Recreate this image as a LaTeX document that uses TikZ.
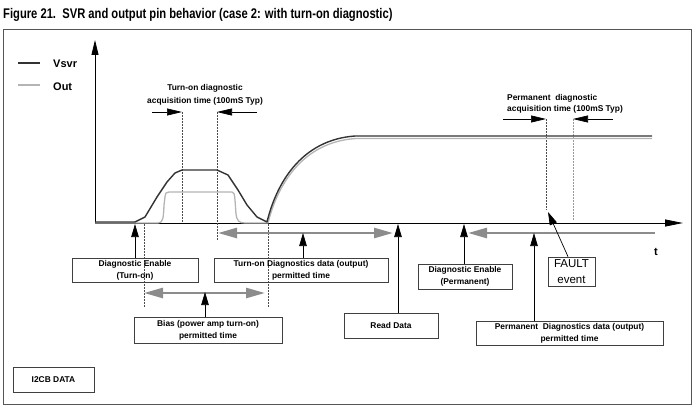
\documentclass[tikz,border=0pt]{standalone}
\usepackage{fontspec}
\setmainfont{Liberation Sans}
\usetikzlibrary{arrows.meta}
\definecolor{vcol}{HTML}{333333}
\definecolor{ocol}{HTML}{B4B4B4}
\definecolor{gar}{HTML}{8C8C8C}
\definecolor{frm}{HTML}{555555}
\begin{document}
\begin{tikzpicture}[x=1pt,y=-1pt,
  lbl/.style={font=\bfseries\fontsize{8.4}{12}\selectfont, align=center, inner sep=0pt},
  box/.style={draw=black!75, line width=0.7pt, lbl},
  blk/.style={draw=black, line width=0.7pt, -{Triangle[length=13pt,width=7.5pt]}},
  bigblk/.style={draw=black, line width=0.7pt, -{Triangle[length=15pt,width=7pt]}},
  garr/.style={draw=gar, line width=2.6pt, {Triangle[length=19pt,width=10pt]}-{Triangle[length=19pt,width=10pt]}},
  garrl/.style={draw=gar, line width=2.6pt, {Triangle[length=19pt,width=10pt]}-},
  dsh/.style={draw=black!70, line width=0.5pt, dash pattern=on 2pt off 1pt},
  vsvr/.style={draw=vcol, line width=1.4pt, line join=round},
  outc/.style={draw=ocol, line width=1.3pt, line join=round}]
\useasboundingbox (0,0) rectangle (698,409);
% title
\node[anchor=base west, inner sep=0pt, font=\bfseries\fontsize{14}{16}\selectfont] (title) at (3,19)
  {\scalebox{0.80}[1]{Figure 21.\ \ SVR and output pin behavior (case 2: with turn-on diagnostic)}};
% frame
\draw[frm, line width=1pt] (3,30) rectangle (691,404);
% axes
\coordinate (O) at (95,223);
\coordinate (ytop) at (95,40);
\coordinate (xend) at (683,223);
\draw[draw=black, line width=0.8pt, -{Triangle[length=15pt,width=7pt]}] (O) -- (ytop);
\draw[draw=black, line width=0.8pt, -{Triangle[length=18pt,width=7pt]}] (O) -- (xend);
\node[font=\bfseries\fontsize{11}{13}\selectfont, inner sep=0pt] (t) at (656,252) {t};
% legend
\coordinate (lv1) at (18,63); \coordinate (lv2) at (40,63);
\coordinate (lo1) at (18,85); \coordinate (lo2) at (40,85);
\draw[vsvr] (lv1) -- (lv2);
\draw[outc] (lo1) -- (lo2);
\node[anchor=west, inner sep=0pt, font=\bfseries\fontsize{11}{13}\selectfont] (lvt) at (53,64) {Vsvr};
\node[anchor=west, inner sep=0pt, font=\bfseries\fontsize{11}{13}\selectfont] (lot) at (53,87) {Out};
% dashed verticals
\draw[dsh] (182,112) -- (182,222);
\draw[dsh] (217,112) -- (217,240);
\draw[dsh] (144,224) -- (144,307);
\draw[dsh] (268,224) -- (268,307);
\draw[dsh] (546,119) -- (546,210);
\draw[draw=black!40, line width=0.6pt, dash pattern=on 2pt off 1pt] (573,119) -- (573,220);
% Out curve
\draw[outc] (95,223) -- (158,223) .. controls (163,223) and (163.5,218) .. (164,205) -- (165,197)
  .. controls (165.5,193) and (166,192) .. (169,192) -- (232,192)
  .. controls (234,192) and (234.5,194) .. (235,200) -- (236,214)
  .. controls (237,221) and (239,223) .. (245,223) -- (268,223)
  .. controls (277,187) and (301,142) .. (356,138.5) -- (652,138.5);
% Vsvr curve
\draw[vsvr] (95,222) -- (135,222) -- (145,217) -- (157,197) -- (167,182) -- (175,173) -- (182,170)
  -- (217,170) -- (228,175) -- (238,190) -- (247,205) -- (257,217) -- (267,222)
  .. controls (276,185) and (300,140) .. (355,136) -- (652,136);
% acquisition arrows
\node[lbl] (tda) at (205,88) {Turn-on diagnostic};
\node[lbl] (tdb) at (205,101) {acquisition time (100mS Typ)};
\coordinate (ta1) at (152,112); \coordinate (ta2) at (182,112);
\coordinate (tb1) at (257,112); \coordinate (tb2) at (217,112);
\draw[bigblk] (ta1) -- (ta2);
\draw[bigblk] (tb1) -- (tb2);
\node[lbl, anchor=west] (pda) at (507,98) {Permanent\ \ diagnostic};
\node[lbl, anchor=west] (pdb) at (507,109) {acquisition time (100mS Typ)};
\coordinate (pa1) at (503,119); \coordinate (pa2) at (546,119);
\coordinate (pb1) at (613,119); \coordinate (pb2) at (573,119);
\draw[bigblk] (pa1) -- (pa2);
\draw[bigblk] (pb1) -- (pb2);
% boxes
\node[box, minimum width=126pt, minimum height=24pt] (de1) at (135,270) {Diagnostic Enable\\(Turn-on)};
\node[box, minimum width=174pt, minimum height=24pt] (tdd) at (301,270) {Turn-on Diagnostics data (output)\\permitted time};
\node[box, minimum width=148pt, minimum height=26pt] (bias) at (208,330) {Bias (power amp turn-on)\\permitted time};
\node[box, minimum width=94pt, minimum height=25pt] (rd) at (391,325.5) {Read Data};
\node[box, minimum width=94pt, minimum height=25pt] (de2) at (465,276.5) {Diagnostic Enable\\(Permanent)};
\node[box, minimum width=187pt, minimum height=24pt] (pdd) at (569.5,333) {Permanent\ \ Diagnostics data (output)\\permitted time};
\node[draw=black!75, line width=0.7pt, inner sep=0pt, align=center, minimum width=47pt, minimum height=29pt,
  font=\fontsize{11.5}{15.5}\selectfont] (fault) at (571.5,271.5) {FAULT\\event};
\node[box, minimum width=81pt, minimum height=25pt] (i2c) at (53.5,379.5) {I2CB DATA};
% gray permitted-time arrows
\coordinate (g1a) at (218,233); \coordinate (g1b) at (393,233);
\draw[garr] (g1a) -- (g1b);
\coordinate (g2a) at (144,293); \coordinate (g2b) at (265,293);
\draw[garr] (g2a) -- (g2b);
\coordinate (g3a) at (468,233); \coordinate (g3b) at (655,233);
\draw[garrl] (g3a) -- (g3b);
% black pointer arrows
\coordinate (e1) at (135,224);
\draw[blk] (de1.north -| e1) -- (e1);
\coordinate (e2) at (303,233);
\draw[blk] (tdd.north -| e2) -- (e2);
\coordinate (e3) at (205,292);
\draw[blk] (bias.north -| e3) -- (e3);
\coordinate (e4) at (398,224);
\draw[blk] (rd.north -| e4) -- (e4);
\coordinate (e5) at (464,224);
\draw[blk] (de2.north -| e5) -- (e5);
\coordinate (e6) at (534,233);
\draw[blk] (pdd.north -| e6) -- (e6);
\coordinate (e7) at (548,212);
\draw[blk] ([xshift=-3.5pt]fault.north) -- (e7);
\end{tikzpicture}
\end{document}
